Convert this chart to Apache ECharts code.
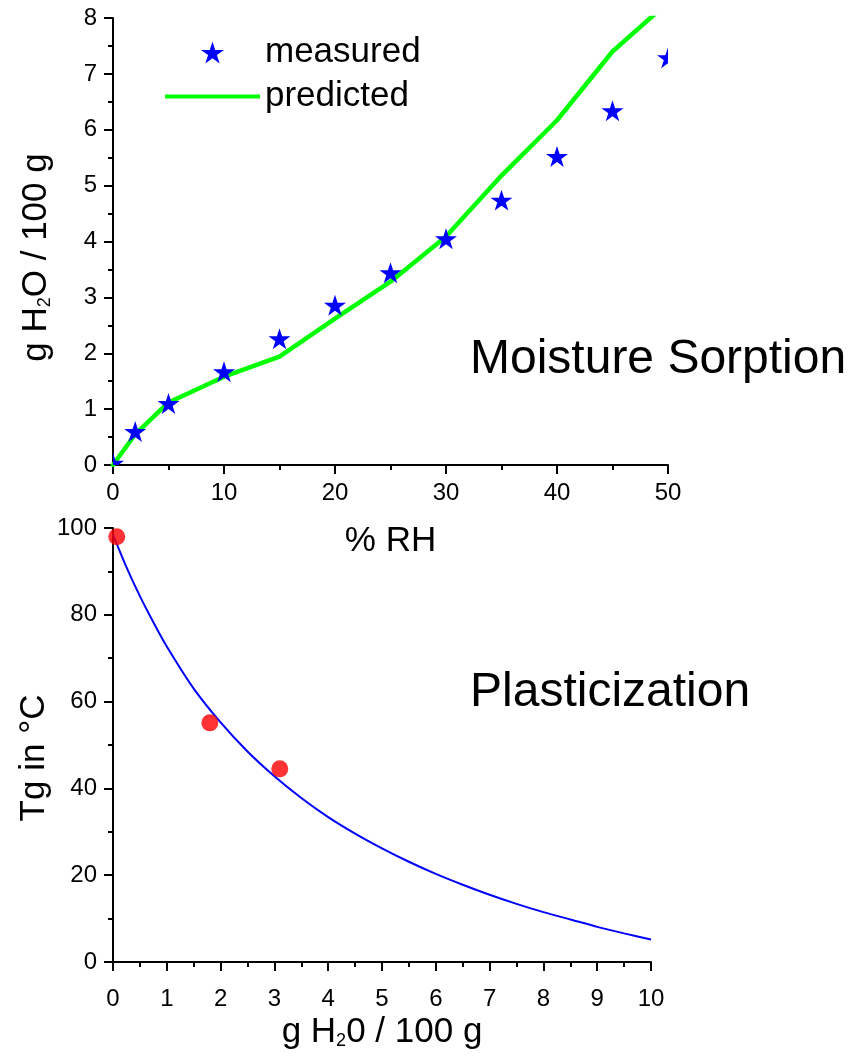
<!DOCTYPE html>
<html>
<head>
<meta charset="utf-8">
<script src="https://cdn.jsdelivr.net/npm/echarts@6/dist/echarts.min.js"></script>
<style>
html,body{margin:0;padding:0;background:#fff;}
#chart{width:861px;height:1057px;}
</style>
</head>
<body>
<div id="chart"></div>
<script>
// ---- Data: Moisture sorption (top panel) ----
const rhValues = [0, 2, 5, 10, 15, 20, 25, 30, 35, 40, 45, 50];
const measured = [0.03, 0.6, 1.1, 1.67, 2.26, 2.86, 3.44, 4.05, 4.74, 5.52, 6.34, 7.29];
const predicted = [0, 0.55, 1.12, 1.58, 1.94, 2.62, 3.28, 4.09, 5.18, 6.17, 7.4, 8.28];
const rhTicks = [0, 10, 20, 30, 40, 50];

// ---- Data: Plasticization (bottom panel) ----
const waterX = [0, 0.25, 0.5, 0.75, 1, 1.5, 2, 2.5, 3, 3.5, 4, 4.5, 5, 5.5, 6, 6.5, 7, 7.5, 8, 8.5, 9, 9.5, 10];
const tgCurve = [98.5, 91, 84.3, 78.3, 72.7, 63, 55.2, 48.5, 42.8, 37.8, 33.4, 29.6, 26.2, 23.1, 20.3, 17.8, 15.5, 13.4, 11.5, 9.8, 8.1, 6.6, 5.2];
const tgPointsX = [0.07, 1.8, 3.1];
const tgPointsY = [98, 55.1, 44.5];

const FONT = '"Liberation Sans", Arial, sans-serif';
const STAR = 'M50,0 L61.23,34.55 L97.55,34.55 L68.17,55.9 L79.39,90.45 L50,69.1 L20.61,90.45 L31.83,55.9 L2.45,34.55 L38.77,34.55 Z';
const BAR = 'M0,0 L100,0 L100,4.4 L0,4.4 Z';

const chart = echarts.init(document.getElementById('chart'), null, {renderer: 'canvas'});

const axisCommon = {
  axisLine: {show: true, lineStyle: {color: '#000', width: 2}},
  axisTick: {show: true, inside: false, length: 9, lineStyle: {color: '#000', width: 2}},
  minorTick: {show: true, splitNumber: 2, length: 5, lineStyle: {color: '#000', width: 2}},
  splitLine: {show: false},
  axisLabel: {color: '#000', fontSize: 24, fontFamily: FONT, margin: 16},
  nameLocation: 'middle',
  nameMoveOverlap: false
};

function richName(pad) {
  return {
    m: {fontSize: 35, fontFamily: FONT, color: '#000', lineHeight: 35, verticalAlign: 'top'},
    s: {fontSize: 18, fontFamily: FONT, color: '#000', lineHeight: 18, verticalAlign: 'bottom', padding: [pad, 0, 0, 0]}
  };
}

const option = {
  backgroundColor: '#fff',
  animation: false,
  title: [
    {text: 'Moisture Sorption', left: 470, top: 336, padding: 0,
     textStyle: {fontSize: 48, fontWeight: 'normal', color: '#000', fontFamily: FONT}},
    {text: 'Plasticization', left: 470, top: 669, padding: 0,
     textStyle: {fontSize: 48, fontWeight: 'normal', color: '#000', fontFamily: FONT}}
  ],
  legend: {
    orient: 'vertical', left: 165, top: 35, padding: 0,
    itemWidth: 95, itemHeight: 22, itemGap: 9,
    textStyle: {fontSize: 35, color: '#000', fontFamily: FONT},
    data: [
      {name: 'measured', icon: 'path://' + STAR},
      {name: 'predicted', icon: 'path://' + BAR}
    ]
  },
  grid: [
    {left: 113, top: 18, width: 555, height: 447, containLabel: false, outerBoundsMode: 'none'},
    {left: 113, top: 528, width: 538, height: 434, containLabel: false, outerBoundsMode: 'none'}
  ],
  xAxis: [
    Object.assign({}, axisCommon, {
      gridIndex: 0, type: 'value', min: rhTicks[0], max: rhTicks[rhTicks.length - 1], interval: 10,
      name: '% RH', nameGap: 59,
      nameTextStyle: {fontSize: 35, fontFamily: FONT, color: '#000'}
    }),
    Object.assign({}, axisCommon, {
      gridIndex: 1, type: 'value', min: 0, max: 10, interval: 1,
      axisLabel: {color: '#000', fontSize: 24, fontFamily: FONT, margin: 25},
      name: '{m|g H}{s|2}{m|0 / 100 g}', nameGap: 53,
      nameTextStyle: {rich: richName(32)}
    })
  ],
  yAxis: [
    Object.assign({}, axisCommon, {
      gridIndex: 0, type: 'value', min: 0, max: 8, interval: 1,
      name: '{m|g H}{s|2}{m|O / 100 g}', nameGap: 59,
      nameTextStyle: {rich: richName(32), padding: [0, 32, 0, 0]}
    }),
    Object.assign({}, axisCommon, {
      gridIndex: 1, type: 'value', min: 0, max: 100, interval: 20,
      name: 'Tg in °C', nameGap: 61,
      nameTextStyle: {fontSize: 35, fontFamily: FONT, color: '#000', padding: [0, 26, 0, 0]}
    })
  ],
  series: [
    {
      name: 'predicted', type: 'line', xAxisIndex: 0, yAxisIndex: 0,
      data: rhValues.map((x, i) => [x, predicted[i]]),
      symbol: 'none', clip: true, z: 2,
      lineStyle: {color: '#00ff00', width: 4.5, join: 'round', cap: 'round'},
      itemStyle: {color: '#00ff00'}
    },
    {
      name: 'measured', type: 'custom', xAxisIndex: 0, yAxisIndex: 0, clip: true, z: 3,
      data: rhValues.map((x, i) => [x, measured[i]]),
      itemStyle: {color: '#0000ff'},
      encode: {x: 0, y: 1},
      renderItem: function (params, api) {
        const p = api.coord([api.value(0), api.value(1)]);
        const cs = params.coordSys;
        const s = 22;
        return {
          type: 'path',
          shape: {pathData: STAR, x: p[0] - s / 2, y: p[1] - s / 2, width: s, height: s, layout: 'center'},
          style: {fill: '#0000ff'},
          clipPath: {type: 'rect', shape: {x: cs.x, y: cs.y, width: cs.width, height: cs.height}}
        };
      }
    },
    {
      name: 'Tg fit', type: 'line', xAxisIndex: 1, yAxisIndex: 1,
      data: waterX.map((x, i) => [x, tgCurve[i]]),
      symbol: 'none', smooth: 0.25, z: 2,
      lineStyle: {color: '#0000ff', width: 2}
    },
    {
      name: 'Tg measured', type: 'scatter', xAxisIndex: 1, yAxisIndex: 1,
      data: tgPointsX.map((x, i) => [x, tgPointsY[i]]),
      symbol: 'circle', symbolSize: 17, z: 3,
      itemStyle: {color: '#ff0000'}
    }
  ]
};
chart.setOption(option);
</script>
</body>
</html>
